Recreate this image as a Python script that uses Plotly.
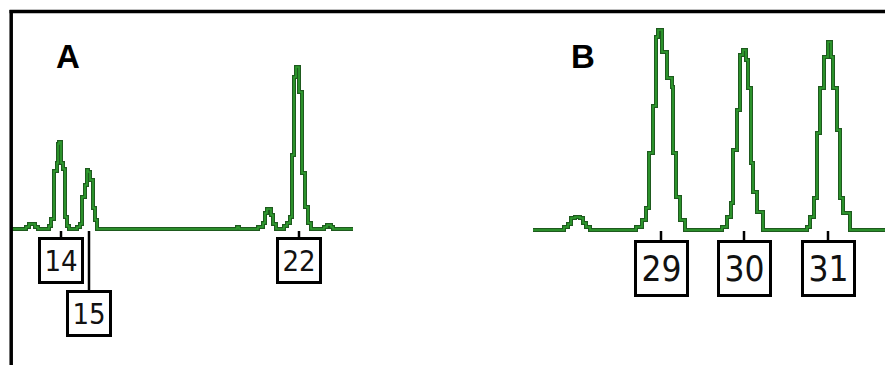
import plotly.graph_objects as go

# Panel A trace: (position, signal height above baseline) step readings
a_pos = [12, 26, 29, 35, 38, 49, 51, 54, 57, 58, 59, 61, 63, 65, 67, 69,
         77, 80, 82, 85, 87, 88, 90, 93, 95, 97, 237, 239,
         258, 263, 265, 267, 271, 273, 276, 284, 287, 290, 292, 294, 296, 299,
         302, 305, 308, 311, 324, 327, 331, 333, 353]
a_sig = [0, 2, 5, 2, 0, 3, 10, 58, 66, 85, 87, 66, 60, 12, 3, 0,
         2, 5, 32, 44, 59, 57, 49, 21, 9, 0, 2, 0,
         2, 6, 16, 20, 14, 5, 0, 3, 6, 12, 74, 152, 162, 137,
         56, 22, 6, 0, 2, 4, 2, 0, 0]

# Panel B trace
b_pos = [533, 564, 568, 571, 575, 580, 583, 586, 590,
         636, 642, 646, 649, 653, 656, 658, 662, 667, 672, 673, 676, 680, 685,
         722, 727, 731, 733, 737, 740, 743, 746, 748, 751, 753, 757, 763,
         807, 810, 814, 817, 820, 824, 828, 831, 833, 837, 840, 843, 850, 885]
b_sig = [-1, 2, 5, 11, 12, 11, 6, 2, -1,
         2, 9, 21, 76, 123, 192, 199, 177, 151, 142, 76, 32, 9, -1,
         2, 12, 26, 79, 119, 174, 179, 169, 141, 66, 37, 17, -1,
         2, 12, 31, 96, 141, 172, 187, 172, 141, 99, 31, 16, -1, -1]

# Allele calls: label, peak position, box offset below baseline (px)
a_labels = ["14", "15", "22"]
a_label_pos = [61, 89, 299]
a_label_off = [29, 82, 29]
b_labels = ["29", "30", "31"]
b_label_pos = [661, 744, 828]
b_label_off = [37, 37, 37]

panel_titles = ["A", "B"]
panel_title_pos = [67.5, 582.5]

DARK = "#1e5a1e"
GREEN = "#30a030"

fig = go.Figure()
for xs, ys in [(a_pos, a_sig), (b_pos, b_sig)]:
    fig.add_trace(go.Scatter(x=xs, y=ys, mode="lines", line_shape="hv",
                             line=dict(color=DARK, width=4), hoverinfo="skip"))
    fig.add_trace(go.Scatter(x=xs, y=ys, mode="lines", line_shape="hv",
                             line=dict(color=GREEN, width=1.6), hoverinfo="skip"))

LABFONT = "DejaVu Sans, sans-serif"
STYLE = '<span style="font-stretch:condensed">%s</span>'
anns = []
for lab, px, off in zip(a_labels, a_label_pos, a_label_off):
    anns.append(dict(x=px, y=-2, xref="x", yref="y", text=STYLE % lab,
                     showarrow=True, arrowhead=0, arrowwidth=2.5, arrowcolor="black",
                     ax=0, ay=off, standoff=0,
                     font=dict(family=LABFONT, size=29, color="#111", weight=500),
                     width=40, height=41, bordercolor="black", borderwidth=3,
                     borderpad=0, bgcolor="white"))
for lab, px, off in zip(b_labels, b_label_pos, b_label_off):
    anns.append(dict(x=px, y=-2, xref="x", yref="y", text=STYLE % lab,
                     showarrow=True, arrowhead=0, arrowwidth=2.5, arrowcolor="black",
                     ax=0, ay=off, standoff=0,
                     font=dict(family=LABFONT, size=35, color="#111", weight=500),
                     width=49, height=51, bordercolor="black", borderwidth=3,
                     borderpad=0, bgcolor="white"))
for t, px in zip(panel_titles, panel_title_pos):
    anns.append(dict(x=px, y=173, xref="x", yref="y", text="<b>%s</b>" % t,
                     showarrow=False,
                     font=dict(family="Liberation Sans, Arial, sans-serif", size=33,
                               color="black")))

W, H = 885, 365
shapes = [
    dict(type="line", xref="paper", yref="paper", x0=9.5 / W, x1=1.0,
         y0=1 - 11.5 / H, y1=1 - 11.5 / H, line=dict(color="black", width=3.5)),
    dict(type="line", xref="paper", yref="paper", x0=11.2 / W, x1=11.2 / W,
         y0=1 - 10 / H, y1=0, line=dict(color="black", width=3.5)),
]

fig.update_layout(
    width=W, height=H, margin=dict(l=0, r=0, t=0, b=0),
    paper_bgcolor="white", plot_bgcolor="white", showlegend=False,
    xaxis=dict(range=[0, 885], visible=False, fixedrange=True),
    yaxis=dict(range=[-136, 229], visible=False, fixedrange=True),
    annotations=anns, shapes=shapes,
)
fig.write_html("out.html", config={"displayModeBar": False},
               post_script="document.body.style.margin='0';document.body.style.overflow='hidden';")
